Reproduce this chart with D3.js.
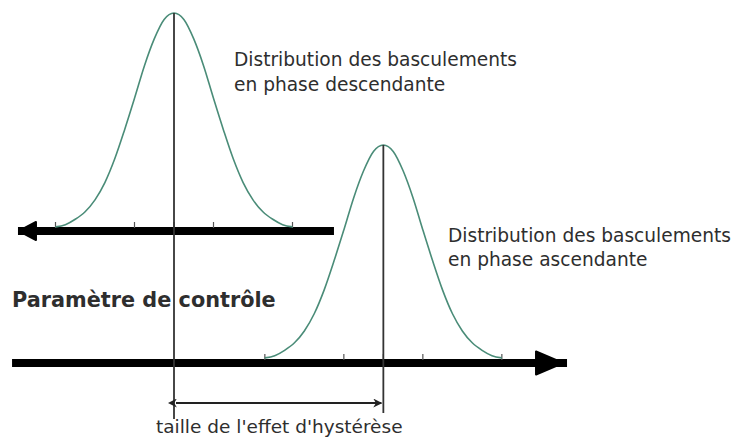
<!DOCTYPE html>
<html lang="fr">
<head>
  <meta charset="UTF-8" />
  <title>Hystérèse</title>
  <style>
    html, body { margin: 0; padding: 0; background: #fff; overflow: hidden; }
    svg { display: block; }
    .label { font-family: "DejaVu Sans", sans-serif; fill: #2e2e2e; }
    .curve { fill: none; stroke: #4a8c78; stroke-width: 1.6px; }
    .mean { stroke: #333; stroke-width: 1.8px; }
    .tick { stroke: #555; stroke-width: 1.2px; }
    .axis { stroke: #000; stroke-width: 8px; }
  </style>
  <script src="https://d3js.org/d3.v7.min.js"></script>
</head>
<body>
<svg id="chart" width="736" height="441"></svg>
<script>
  // control parameter units (1 unit = one standard deviation)
  const meanDesc = 4;
  const meanAsc = 9.3;
  // bell shape: offset from mean, relative height
  const shapeOffsets = [-3, -2.75, -2.5, -2.25, -2, -1.75, -1.5, -1.25, -1, -0.75, -0.5, -0.25, 0,
                        0.25, 0.5, 0.75, 1, 1.25, 1.5, 1.75, 2, 2.25, 2.5, 2.75, 3];
  const shapeHeights = [0.01, 0.02, 0.045, 0.08, 0.135, 0.215, 0.325, 0.46, 0.605, 0.755, 0.88, 0.97, 1,
                        0.97, 0.88, 0.755, 0.605, 0.46, 0.325, 0.215, 0.135, 0.08, 0.045, 0.02, 0.01];
  const tickOffsets = [-3, -1, 0, 1, 3];
  const descLabel = ["Distribution des basculements", "en phase descendante"];
  const ascLabel = ["Distribution des basculements", "en phase ascendante"];
  const axisTitle = "Paramètre de contrôle";
  const hystLabel = "taille de l'effet d'hystérèse";

  const svg = d3.select("#chart");

  const x = d3.scaleLinear().domain([0, 14]).range([16, 569]);
  const yDesc = d3.scaleLinear().domain([0, 1]).range([229, 13]);
  const yAsc = d3.scaleLinear().domain([0, 1]).range([360, 145]);

  const shape = shapeOffsets.map((o, i) => ({ o, h: shapeHeights[i] }));

  function drawDistribution(mean, y, axisY, axisFrom, axisTo, dir) {
    const g = svg.append("g");

    // axis bar
    g.append("line")
      .attr("class", "axis")
      .attr("x1", x(axisFrom)).attr("x2", x(axisTo))
      .attr("y1", axisY).attr("y2", axisY);

    // arrow head
    const tip = dir < 0 ? x(axisFrom) + 1 : x(axisTo) - 4;
    const len = dir < 0 ? 17 : 27;
    const half = dir < 0 ? 9 : 11.5;
    g.append("path")
      .attr("d", `M${tip},${axisY} L${tip - dir * len},${axisY - half} L${tip - dir * len},${axisY + half} Z`)
      .attr("fill", "#000")
      .attr("stroke", "#000")
      .attr("stroke-width", 2)
      .attr("stroke-linejoin", "round");

    // tick marks
    g.selectAll(".tick")
      .data(tickOffsets)
      .join("line")
      .attr("class", "tick")
      .attr("x1", d => x(mean + d)).attr("x2", d => x(mean + d))
      .attr("y1", axisY - 9).attr("y2", axisY - 3);

    // bell curve
    const line = d3.line()
      .x(d => x(mean + d.o))
      .y(d => y(d.h))
      .curve(d3.curveMonotoneX);
    g.append("path")
      .datum(shape)
      .attr("class", "curve")
      .attr("d", line);
  }

  drawDistribution(meanDesc, yDesc, 231, 0.05, 8.05, -1);
  drawDistribution(meanAsc, yAsc, 363, -0.1, 13.95, 1);

  // mean lines
  svg.append("line").attr("class", "mean")
    .attr("x1", x(meanDesc)).attr("x2", x(meanDesc))
    .attr("y1", yDesc(1)).attr("y2", 419);
  svg.append("line").attr("class", "mean")
    .attr("x1", x(meanAsc)).attr("x2", x(meanAsc))
    .attr("y1", yAsc(1)).attr("y2", 413);

  // hysteresis width arrow
  const defs = svg.append("defs");
  ["start", "end"].forEach(k => {
    defs.append("marker")
      .attr("id", "arr-" + k)
      .attr("viewBox", "0 0 10 10")
      .attr("refX", k === "end" ? 9 : 1).attr("refY", 5)
      .attr("markerWidth", 5).attr("markerHeight", 5)
      .attr("orient", "auto-start-reverse")
      .append("path")
      .attr("d", "M0,0 L10,5 L0,10 L3,5 Z")
      .attr("fill", "#222");
  });
  svg.append("line")
    .attr("x1", x(meanDesc) + 2).attr("x2", x(meanAsc) - 2)
    .attr("y1", 403).attr("y2", 403)
    .attr("stroke", "#222").attr("stroke-width", 1.8)
    .attr("marker-start", "url(#arr-start)")
    .attr("marker-end", "url(#arr-end)");

  // labels
  function multiline(lines, x0, y0, dy) {
    svg.append("text")
      .attr("class", "label")
      .attr("font-size", 18.6)
      .selectAll("tspan")
      .data(lines)
      .join("tspan")
      .attr("x", x0)
      .attr("y", (d, i) => y0 + i * dy)
      .text(d => d);
  }
  multiline(descLabel, 234, 66, 24.5);
  multiline(ascLabel, 448, 242, 24);

  svg.append("text")
    .attr("class", "label")
    .attr("x", 12).attr("y", 307)
    .attr("font-size", 20.8)
    .attr("font-weight", "bold")
    .attr("fill", "#1a1a1a")
    .text(axisTitle);

  svg.append("text")
    .attr("class", "label")
    .attr("x", 156).attr("y", 433)
    .attr("font-size", 18.5)
    .text(hystLabel);
</script>
</body>
</html>
